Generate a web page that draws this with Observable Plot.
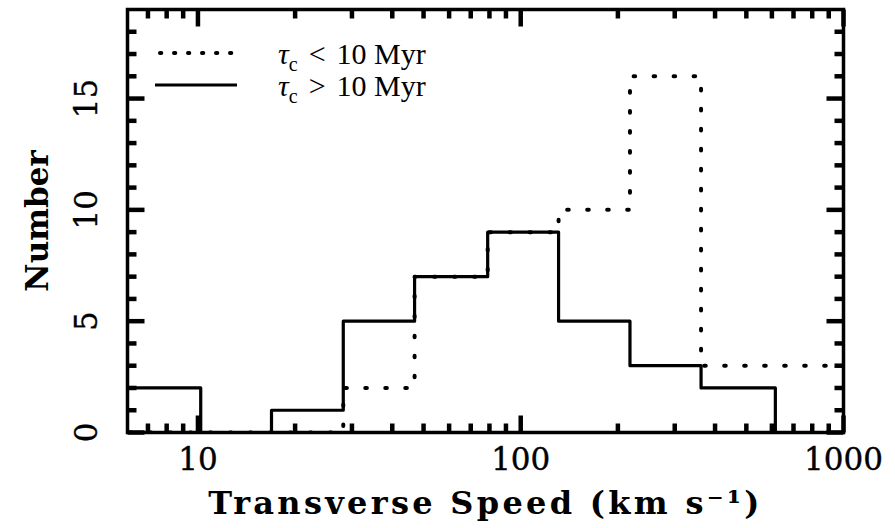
<!DOCTYPE html>
<html><head><meta charset="utf-8">
<script src="https://cdn.jsdelivr.net/npm/d3@7"></script>
<script src="https://cdn.jsdelivr.net/npm/@observablehq/plot@0.6"></script>
<style>
body{margin:0;background:#fff}
#wrap{position:relative;width:895px;height:528px}
#legend{position:absolute;left:0;top:0}
</style></head><body><div id="wrap"></div>
<script>
// bin edges (km/s) shared by both histograms
const binEdges = [6.15, 10.2, 16.9, 28.2, 46.9, 79, 131, 218, 362, 615, 1020];
// τc > 10 Myr (solid)
const countsOld = [2, 0, 1, 5, 7, 9, 5, 3, 2, 0];
// τc < 10 Myr (dotted)
const countsYoung = [0, 0, 0, 2, 7, 9, 10, 16, 3, 3];
const xMajorTicks = [10, 100, 1000];
const xMinorTicks = [7, 8, 9, 20, 30, 40, 50, 60, 70, 80, 90, 200, 300, 400, 500, 600, 700, 800, 900];
const yMajorTicks = [0, 5, 10, 15];
const yMinorTicks = [1, 2, 3, 4, 6, 7, 8, 9, 11, 12, 13, 14, 16, 17, 18];
const xDomain = [6.05, 1000];
const yDomain = [0, 19];
const xTitle = "Transverse Speed (km s⁻¹)";
const yTitle = "Number";
const legendLabels = [{sym: "<", txt: "10 Myr"}, {sym: ">", txt: "10 Myr"}];

function steps(counts) {
  const pts = counts.map((c, i) => ({x: binEdges[i], y: c}));
  pts.push({x: binEdges[binEdges.length - 1], y: 0});
  return pts;
}

const W = 895, H = 528, mL = 127, mR = 52, mT = 9, mB = 96;
const fw = W - mL - mR, fh = H - mT - mB;
const majL = 17, minL = 9;
const serif = "DejaVu Serif";

// inward ticks on all four sides: pixel lengths converted to scale units
const yPerPx = (yDomain[1] - yDomain[0]) / fh;
const lxPerPx = (Math.log10(xDomain[1]) - Math.log10(xDomain[0])) / fw;
function xTickLinks(vals, len) {
  const d = len * yPerPx;
  return vals.flatMap(v => [
    {x1: v, x2: v, y1: yDomain[0], y2: yDomain[0] + d},
    {x1: v, x2: v, y1: yDomain[1], y2: yDomain[1] - d}
  ]);
}
function yTickLinks(vals, len) {
  const f = Math.pow(10, len * lxPerPx);
  return vals.flatMap(v => [
    {y1: v, y2: v, x1: xDomain[0], x2: xDomain[0] * f},
    {y1: v, y2: v, x1: xDomain[1], x2: xDomain[1] / f}
  ]);
}
const tickData = [
  ...xTickLinks(xMajorTicks, majL), ...xTickLinks(xMinorTicks, minL),
  ...yTickLinks(yMajorTicks, majL), ...yTickLinks(yMinorTicks, minL)
];

const plot = Plot.plot({
  width: W, height: H,
  marginLeft: mL, marginRight: mR, marginTop: mT, marginBottom: mB,
  x: {type: "log", domain: xDomain, axis: null},
  y: {domain: yDomain, axis: null},
  style: {background: "white", fontFamily: serif},
  marks: [
    Plot.line(steps(countsYoung), {x: "x", y: "y", curve: "step-after", clip: true,
      stroke: "black", strokeWidth: 4, strokeDasharray: "1.6,18.4", strokeLinecap: "round"}),
    Plot.line(steps(countsOld), {x: "x", y: "y", curve: "step-after", clip: true,
      stroke: "black", strokeWidth: 3.2}),
    Plot.link(tickData, {x1: "x1", x2: "x2", y1: "y1", y2: "y2", stroke: "black", strokeWidth: 4.5}),
    Plot.frame({stroke: "black", strokeWidth: 3.5}),
    // tick labels
    Plot.text(xMajorTicks, {x: d => d, text: d => String(d), frameAnchor: "bottom", dy: 28,
      lineAnchor: "middle", fontSize: 31, fill: "black", stroke: "black", strokeWidth: 0.4}),
    Plot.text(yMajorTicks, {y: d => d, text: d => String(d), frameAnchor: "left", dx: -40,
      rotate: -90, textAnchor: "middle", lineAnchor: "middle", fontSize: 31, fill: "black", stroke: "black", strokeWidth: 0.4}),
    // axis titles
    Plot.text([xTitle], {text: d => d, frameAnchor: "bottom", dy: 71, lineAnchor: "middle",
      fontSize: 32, fontWeight: "bold", fill: "black"}),
    Plot.text([yTitle], {text: d => d, frameAnchor: "left", dx: -89, rotate: -90,
      textAnchor: "middle", lineAnchor: "middle", fontSize: 31, fontWeight: "bold", fill: "black"})
  ]
});
document.getElementById("wrap").appendChild(plot);
// widen the x title's letter spacing like the reference typeface
d3.select(plot).selectAll("text").filter(function() { return this.textContent === xTitle; })
  .style("letter-spacing", "3.3px");

// legend overlay
const lg = d3.select("#wrap").append("svg").attr("id", "legend").attr("width", W).attr("height", 120);
const rowsY = [53, 85];
lg.append("line").attr("x1", 160).attr("x2", 232).attr("y1", rowsY[0]).attr("y2", rowsY[0])
  .attr("stroke", "black").attr("stroke-width", 4).attr("stroke-linecap", "round")
  .attr("stroke-dasharray", "1.3,12.7");
lg.append("line").attr("x1", 155).attr("x2", 237).attr("y1", rowsY[1]).attr("y2", rowsY[1])
  .attr("stroke", "black").attr("stroke-width", 2.8);
legendLabels.forEach((d, i) => {
  const t = lg.append("text").attr("x", 278).attr("y", rowsY[i]).attr("dy", "0.35em")
    .attr("font-family", "Liberation Serif").attr("font-size", 30).attr("fill", "black");
  t.append("tspan").attr("font-style", "italic").text("τ");
  t.append("tspan").attr("font-size", 20).attr("dy", 7).text("c");
  t.append("tspan").attr("dy", -7).attr("dx", 11).text(d.sym);
  t.append("tspan").attr("dx", 11).text(d.txt);
});
</script></body></html>
